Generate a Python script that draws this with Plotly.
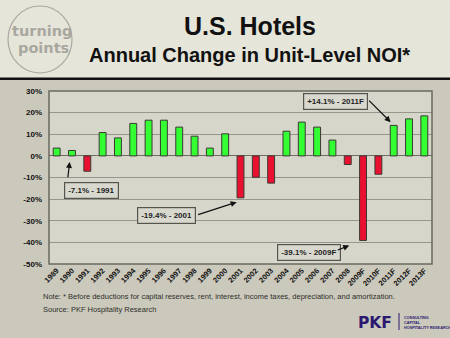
import plotly.graph_objects as go

# Annual change in unit-level NOI, U.S. hotels (F = forecast)
years = ["1989", "1990", "1991", "1992", "1993", "1994", "1995", "1996", "1997",
         "1998", "1999", "2000", "2001", "2002", "2003", "2004", "2005", "2006",
         "2007", "2008", "2009F", "2010F", "2011F", "2012F", "2013F"]
noi_change = [3.6, 2.5, -7.1, 10.8, 8.3, 15.0, 16.5, 16.5, 13.3,
              9.1, 3.6, 10.2, -19.4, -9.9, -12.6, 11.4, 15.6, 13.3,
              7.3, -4.0, -39.1, -8.5, 14.1, 17.1, 18.5]

y_ticks = [30, 20, 10, 0, -10, -20, -30, -40, -50]
y_tick_text = [f"{v}%" for v in y_ticks]

W, H = 450, 338
L, R, T, B = 49, 432, 91, 264  # plot area in pixels


def px(x):
    return (x - L) / (R - L)


def py(y):
    return (B - y) / (B - T)


GREEN = "#33ff33"
RED = "#ea1030"
colors = [GREEN if v >= 0 else RED for v in noi_change]

fig = go.Figure()
fig.add_trace(go.Bar(
    x=years, y=noi_change,
    marker=dict(color=colors, line=dict(color="#3a3a32", width=1)),
    hoverinfo="x+y",
))

shapes = [
    # title band and divider
    dict(type="rect", xref="paper", yref="paper", x0=px(0), x1=px(W), y0=py(78), y1=py(0),
         fillcolor="#e6e5da", line=dict(width=0), layer="below"),
    dict(type="rect", xref="paper", yref="paper", x0=px(0), x1=px(W), y0=py(80), y1=py(77.5),
         fillcolor="#111111", line=dict(width=0), layer="below"),
    # logo ring
    dict(type="circle", xref="paper", yref="paper", x0=px(8), x1=px(72), y0=py(73), y1=py(6),
         line=dict(color="#a9a8a0", width=1.2), layer="below"),
    # plot frame
    dict(type="rect", xref="paper", yref="paper", x0=0, x1=1, y0=0, y1=1,
         line=dict(color="#6a6a62", width=1.5)),
    # PKF divider
    dict(type="line", xref="paper", yref="paper", x0=px(399), x1=px(399), y0=py(330), y1=py(313),
         line=dict(color="#2b1870", width=1)),
]

box = dict(showarrow=False, bordercolor="#55554e", borderwidth=1.2, bgcolor="#d9d8ce",
           borderpad=3, font=dict(size=8, color="#1e1e1e", family="Liberation Sans", weight="bold"),
           xref="paper", yref="paper", xanchor="center", yanchor="middle")
arrow = dict(text="", showarrow=True, arrowhead=2, arrowsize=1, arrowwidth=1.2,
             arrowcolor="#111111", xref="x", yref="y", axref="pixel", ayref="pixel")
label = dict(xref="paper", yref="paper", showarrow=False, xanchor="center", yanchor="middle")

annotations = [
    dict(box, text="-7.1% - 1991", x=px(91), y=py(190)),
    dict(arrow, x=0.85, y=-2.8, ax=-2, ay=17),
    dict(box, text="-19.4% - 2001", x=px(166.5), y=py(215.5)),
    dict(arrow, x=11.75, y=noi_change[12] - 2, ax=-40, ay=13),
    dict(box, text="-39.1% - 2009F", x=px(308.5), y=py(252)),
    dict(arrow, x=19.1, y=-41.5, ax=-13, ay=5),
    dict(box, text="+14.1% - 2011F", x=px(335), y=py(101)),
    dict(arrow, x=21.8, y=noi_change[22] + 1.5, ax=-23, ay=-23),
    # titles
    dict(label, text="<b>U.S. Hotels</b>", x=px(250), y=py(26),
         font=dict(size=25, color="#111111", family="Liberation Sans")),
    dict(label, text="<b>Annual Change in Unit-Level NOI*</b>", x=px(250), y=py(55),
         font=dict(size=20, color="#111111", family="Liberation Sans")),
    # logo text
    dict(label, text="<b>turning</b>", x=px(42), y=py(31),
         font=dict(size=14.5, color="#a9a8a0", family="DejaVu Sans")),
    dict(label, text="<b>points</b>", x=px(43), y=py(48),
         font=dict(size=14.5, color="#a9a8a0", family="DejaVu Sans")),
    # footnotes
    dict(label, text="Note: * Before deductions for capital reserves, rent, interest, income taxes, "
                     "depreciation, and amortization.",
         x=px(41), y=py(296), xanchor="left",
         font=dict(size=7.5, color="#2e2e2a", family="Liberation Sans")),
    dict(label, text="Source: PKF Hospitality Research", x=px(41), y=py(309), xanchor="left",
         font=dict(size=7.5, color="#2e2e2a", family="Liberation Sans")),
    # PKF mark
    dict(label, text="<b>PKF</b>", x=px(394), y=py(323), xanchor="right",
         font=dict(size=15.5, color="#2b1870", family="DejaVu Sans")),
    dict(label, text="CONSULTING<br>CAPITAL<br>HOSPITALITY RESEARCH", x=px(402), y=py(322.5),
         xanchor="left", align="left",
         font=dict(size=3.8, color="#2b1870", family="Liberation Sans", weight="bold")),
]

fig.update_layout(
    width=W, height=H,
    margin=dict(l=L, r=W - R, t=T, b=H - B, pad=0),
    paper_bgcolor="#cbc9bc",
    plot_bgcolor="#d7d6ca",
    bargap=0.55,
    showlegend=False,
    shapes=shapes,
    annotations=annotations,
    xaxis=dict(type="category", tickangle=-45, showgrid=False, zeroline=False,
               showline=False, ticks="",
               tickfont=dict(size=7.5, color="#111111", family="Liberation Sans", weight="bold")),
    yaxis=dict(range=[-50, 30], tickvals=y_ticks, ticktext=y_tick_text, showgrid=True,
               gridcolor="#97968c", gridwidth=1, zeroline=True, zerolinecolor="#6f6e66",
               zerolinewidth=1.2, showline=False, ticks="", ticklabelstandoff=6,
               tickfont=dict(size=8, color="#111111", family="Liberation Sans", weight="bold")),
)

fig.write_html("out.html")
